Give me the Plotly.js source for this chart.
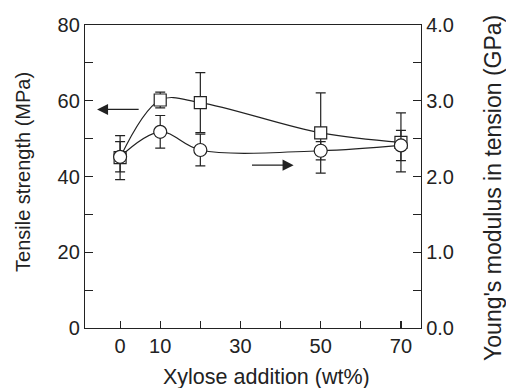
<!DOCTYPE html>
<html>
<head>
<meta charset="utf-8">
<script src="https://cdn.plot.ly/plotly-3.0.1.min.js"></script>
<style>html,body{margin:0;padding:0;background:#fff;}#chart{width:506px;height:388px;}</style>
</head>
<body>
<div id="chart"></div>
<script>
const xylose = [0, 10, 20, 50, 70];
const tensileStrength = [45.0, 60.2, 59.5, 51.5, 49.0];
const tensileError = [5.8, 2.1, 7.9, 10.6, 7.8];
const youngsModulus = [2.26, 2.59, 2.35, 2.34, 2.41];
const youngsError = [0.20, 0.215, 0.21, 0.12, 0.20];
const xTickVals = [0, 10, 20, 30, 40, 50, 60, 70];
const xTickText = ['0', '10', '', '30', '', '50', '', '70'];
const yTickVals = [0, 10, 20, 30, 40, 50, 60, 70, 80];
const yTickText = ['0', '', '20', '', '40', '', '60', '', '80'];
const y2TickVals = [0, 0.5, 1, 1.5, 2, 2.5, 3, 3.5, 4];
const y2TickText = ['0.0', '', '1.0', '', '2.0', '', '3.0', '', '4.0'];
const xTitle = 'Xylose addition (wt%)';
const yTitle = 'Tensile strength (MPa)';
const y2Title = "Young's modulus in tension (GPa)";

const ink = '#222';
const fam = 'Liberation Sans, Arial, sans-serif';
const fnt = {family: fam, size: 20, color: ink};

const traces = [
  {
    x: xylose, y: tensileStrength, yaxis: 'y', type: 'scatter', mode: 'lines+markers',
    line: {color: ink, width: 1.2, shape: 'spline', smoothing: 1},
    marker: {symbol: 'square', size: 12, color: '#fff', line: {color: ink, width: 1.2}},
    error_y: {type: 'data', array: tensileError, visible: true, color: ink, thickness: 1.2, width: 5},
    cliponaxis: false, showlegend: false
  },
  {
    x: xylose, y: youngsModulus, yaxis: 'y2', type: 'scatter', mode: 'lines+markers',
    line: {color: ink, width: 1.2, shape: 'spline', smoothing: 1},
    marker: {symbol: 'circle', size: 13, color: '#fff', line: {color: ink, width: 1.2}},
    error_y: {type: 'data', array: youngsError, visible: true, color: ink, thickness: 1.2, width: 5},
    cliponaxis: false, showlegend: false
  }
];

const layout = {
  width: 506, height: 388,
  margin: {l: 85, r: 85, t: 25, b: 60},
  paper_bgcolor: '#fff', plot_bgcolor: '#fff',
  font: fnt,
  xaxis: {
    range: [-8.75, 75], tickvals: xTickVals, ticktext: xTickText,
    ticks: 'inside', ticklen: 7, tickwidth: 1.2, tickcolor: ink,
    showline: true, linecolor: ink, linewidth: 1.2, mirror: true,
    showgrid: false, zeroline: false, tickfont: fnt
  },
  yaxis: {
    range: [0, 80], tickvals: yTickVals, ticktext: yTickText,
    ticks: 'inside', ticklen: 8, tickwidth: 1.2, tickcolor: ink,
    showline: true, linecolor: ink, linewidth: 1.2,
    showgrid: false, zeroline: false, tickfont: fnt
  },
  yaxis2: {
    range: [0, 4], tickvals: y2TickVals, ticktext: y2TickText,
    overlaying: 'y', side: 'right',
    ticks: 'inside', ticklen: 8, tickwidth: 1.2, tickcolor: ink,
    showline: true, linecolor: ink, linewidth: 1.2,
    showgrid: false, zeroline: false, tickfont: fnt
  },
  annotations: [
    {x: -5.75, y: 57.7, xref: 'x', yref: 'y', ax: 5, ay: 57.7, axref: 'x', ayref: 'y',
     text: '', showarrow: true, arrowhead: 2, arrowsize: 1.7, arrowwidth: 1.3, arrowcolor: ink, standoff: 0},
    {x: 43.25, y: 43.0, xref: 'x', yref: 'y', ax: 32.5, ay: 43.0, axref: 'x', ayref: 'y',
     text: '', showarrow: true, arrowhead: 2, arrowsize: 1.7, arrowwidth: 1.3, arrowcolor: ink, standoff: 0},
    {text: xTitle, xref: 'paper', yref: 'paper', x: 0.539, y: -0.162, xanchor: 'center', yanchor: 'middle',
     showarrow: false, font: {family: fam, size: 21.5, color: ink}},
    {text: yTitle, xref: 'paper', yref: 'paper', x: -0.1845, y: 0.515, xanchor: 'center', yanchor: 'middle',
     textangle: -90, showarrow: false, font: {family: fam, size: 20, color: ink}},
    {text: y2Title, xref: 'paper', yref: 'paper', x: 1.214, y: 0.462, xanchor: 'center', yanchor: 'middle',
     textangle: -90, showarrow: false, font: {family: fam, size: 23, color: ink}}
  ]
};

Plotly.newPlot('chart', traces, layout, {displayModeBar: false, staticPlot: true});
</script>
</body>
</html>
